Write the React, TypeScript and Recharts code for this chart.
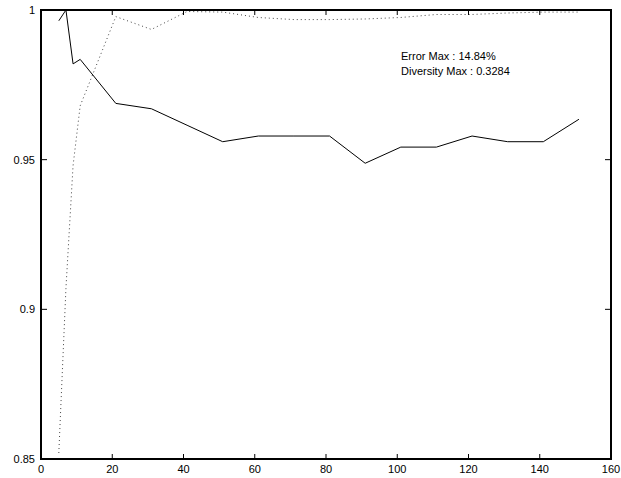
import { LineChart, Line, XAxis, YAxis, ReferenceArea } from 'recharts';

// sample positions (number of members)
const sizes = [5, 7, 9, 11, 21, 31, 41, 51, 61, 71, 81, 91, 101, 111, 121, 131, 141, 151];
// solid curve
const accuracy = [
  0.9964, 1.0, 0.982, 0.9835, 0.9688, 0.967, 0.9615, 0.956, 0.9579, 0.9579, 0.9579, 0.9488, 0.9542,
  0.9542, 0.9579, 0.956, 0.956, 0.9635,
];
// dotted curve
const diversity = [
  0.852, 0.907, 0.948, 0.968, 0.9978, 0.9935, 0.9995, 0.9993, 0.9975, 0.9968, 0.9968, 0.997, 0.9975,
  0.9985, 0.9985, 0.999, 0.9993, 0.9993,
];

const xTicks = [0, 20, 40, 60, 80, 100, 120, 140, 160];
const yTicks = [0.85, 0.9, 0.95, 1];
const notes = ['Error Max : 14.84%', 'Diversity Max : 0.3284'];

const W = 621;
const H = 478;
const LEFT = 41;
const RIGHT = 611;
const TOP = 10;
const BOTTOM = 459;
const FONT = '"Liberation Sans", Arial, Helvetica, sans-serif';

const data = sizes.map((x, i) => ({ x, acc: accuracy[i], div: diversity[i] }));

const XTick = (props: any) => {
  const { x, payload } = props;
  return (
    <g>
      <line x1={x} x2={x} y1={BOTTOM} y2={BOTTOM - 5} stroke="#000" />
      <line x1={x} x2={x} y1={TOP} y2={TOP + 5} stroke="#000" />
      <text x={x} y={BOTTOM + 14} textAnchor="middle" fontSize={11} fontFamily={FONT} fill="#000">
        {payload.value}
      </text>
    </g>
  );
};

const YTick = (props: any) => {
  const { y, payload } = props;
  return (
    <g>
      <line x1={LEFT} x2={LEFT + 6} y1={y} y2={y} stroke="#000" />
      <line x1={RIGHT} x2={RIGHT - 6} y1={y} y2={y} stroke="#000" />
      <text x={LEFT - 6} y={y + 4} textAnchor="end" fontSize={11} fontFamily={FONT} fill="#000">
        {payload.value}
      </text>
    </g>
  );
};

export default function App() {
  return (
    <div style={{ position: 'absolute', left: 0, top: 0, width: W, height: H, background: '#fff' }}>
      <LineChart width={W} height={H} data={data} margin={{ top: TOP, right: W - RIGHT, bottom: 0, left: 0 }}>
        <XAxis
          dataKey="x"
          type="number"
          domain={[0, 160]}
          ticks={xTicks}
          height={H - BOTTOM}
          tickLine={false}
          axisLine={false}
          tick={<XTick />}
          interval={0}
        />
        <YAxis
          type="number"
          domain={[0.85, 1]}
          ticks={yTicks}
          width={LEFT}
          tickLine={false}
          axisLine={false}
          tick={<YTick />}
          interval={0}
          allowDataOverflow
        />
        <ReferenceArea x1={0} x2={160} y1={0.85} y2={1} fill="none" stroke="#000" strokeWidth={2} />
        <Line
          type="linear"
          dataKey="div"
          stroke="#444"
          strokeWidth={1}
          strokeDasharray="1 3"
          dot={false}
          isAnimationActive={false}
        />
        <Line type="linear" dataKey="acc" stroke="#000" strokeWidth={1} dot={false} isAnimationActive={false} />
        <text fontSize={11} fontFamily={FONT} fill="#000">
          <tspan x={401} y={60}>{notes[0]}</tspan>
          <tspan x={401} y={75}>{notes[1]}</tspan>
        </text>
      </LineChart>
    </div>
  );
}
